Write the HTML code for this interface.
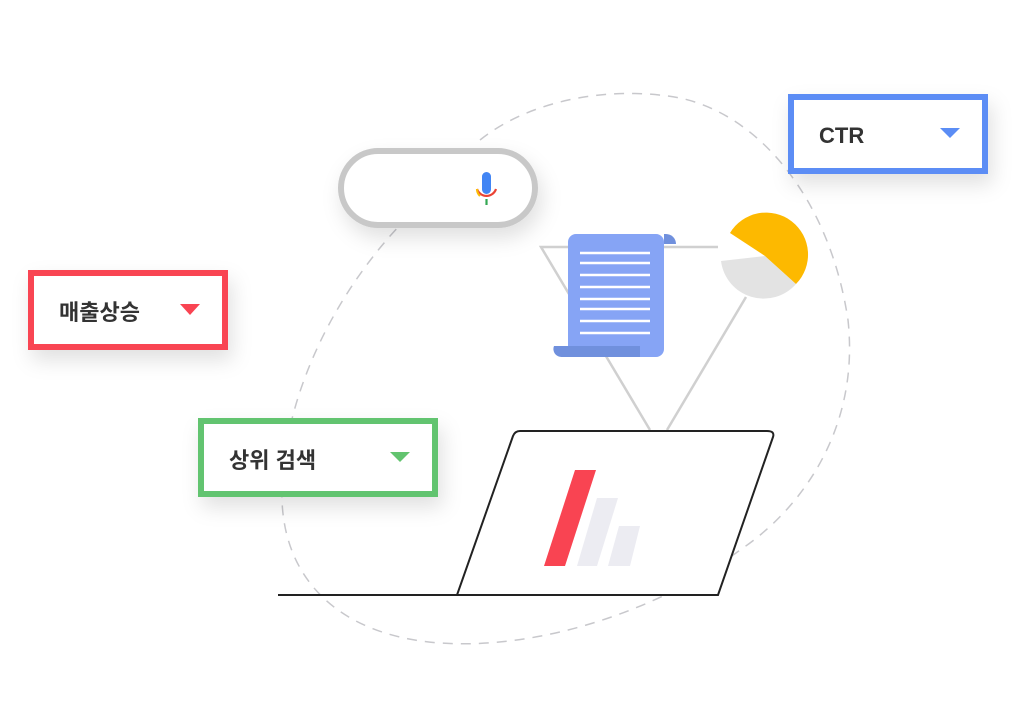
<!DOCTYPE html>
<html><head><meta charset="utf-8"><style>
html,body{margin:0;padding:0;background:#fff;width:1024px;height:724px;overflow:hidden}
svg{display:block}
.t{font-family:"Liberation Sans","Noto Sans CJK KR",sans-serif;font-size:22px;fill:#333}
</style></head><body>
<svg width="1024" height="724" viewBox="0 0 1024 724">
<defs>
<filter id="sh" x="-30%" y="-30%" width="160%" height="180%"><feDropShadow dx="4" dy="10" stdDeviation="10" flood-color="#000" flood-opacity="0.12"/></filter>
</defs>
<path d="M480,140 C530,100 610,85 680,98 C760,115 830,200 848,320 C860,430 800,510 740,550 C660,610 540,650 440,643 C330,635 280,570 282,490 C284,400 330,300 400,225" fill="none" stroke="#c8c8cc" stroke-width="1.5" stroke-dasharray="10,8"/>
<!-- search pill -->
<rect x="341" y="151" width="194" height="74" rx="37" fill="#fff" stroke="#c8c8c8" stroke-width="6" filter="url(#sh)"/>
<rect x="482" y="172" width="9" height="22" rx="4.5" fill="#4285f4"/>
<path d="M477,189 A10,10 0 0 0 496,189" fill="none" stroke="#ea4335" stroke-width="2.2"/>
<path d="M477,189 A10,10 0 0 0 480,196" fill="none" stroke="#fbbc05" stroke-width="2.2"/>
<line x1="486.5" y1="199" x2="486.5" y2="205" stroke="#34a853" stroke-width="2.2"/>
<!-- triangle lines -->
<polyline points="718,247 541,247 650,430" fill="none" stroke="#d0d0d0" stroke-width="2.5"/>
<line x1="746" y1="297" x2="667" y2="430" stroke="#d0d0d0" stroke-width="2.5"/>
<!-- document -->
<path d="M664,234 h2 a10,10 0 0 1 10,10 h-12z" fill="#7090dd"/>
<rect x="568" y="234" width="96" height="123" rx="8" fill="#86a4f5"/>
<path d="M554,346 H640 V357 H562 a8,8 0 0 1 -8,-11z" fill="#7090dd"/>
<g stroke="#fff" stroke-width="2.5">
<line x1="580" y1="253" x2="650" y2="253"/><line x1="580" y1="263" x2="650" y2="263"/>
<line x1="580" y1="275" x2="650" y2="275"/><line x1="580" y1="287" x2="650" y2="287"/>
<line x1="580" y1="299" x2="650" y2="299"/><line x1="580" y1="309" x2="650" y2="309"/>
<line x1="580" y1="321" x2="650" y2="321"/><line x1="580" y1="333" x2="650" y2="333"/>
</g>
<!-- pie -->
<path d="M765,256 L796,284 A43,43 0 0 1 721,261 Z" fill="#e3e3e3"/>
<path d="M765,256 L730,233 A42,42 0 1 1 796,284 Z" fill="#fdb900"/>
<!-- laptop -->
<line x1="278" y1="595" x2="458" y2="595" stroke="#222" stroke-width="2"/>
<path d="M513,436 Q515,431 520,431 H767 Q775,431 773,437 L718,595 H457 Z" fill="#fff" stroke="#222" stroke-width="2"/>
<polygon points="575,470 596,470 565,566 544,566" fill="#f94452"/>
<polygon points="597,498 618,498 597,566 577,566" fill="#ececf2"/>
<polygon points="619,526 640,526 630,566 608,566" fill="#ececf2"/>
<!-- boxes -->
<rect x="31" y="273" width="194" height="74" fill="#fff" stroke="#f94452" stroke-width="6" filter="url(#sh)"/>
<text class="t" x="59" y="320" font-weight="bold">매출상승</text>
<polygon points="180,304 200,304 190,315" fill="#f94452"/>
<rect x="201" y="421" width="234" height="73" fill="#fff" stroke="#62c46f" stroke-width="6" filter="url(#sh)"/>
<text class="t" x="229" y="468" font-weight="bold">상위 검색</text>
<polygon points="390,452 410,452 400,462" fill="#62c46f"/>
<rect x="791" y="97" width="194" height="74" fill="#fff" stroke="#5b8df5" stroke-width="6" filter="url(#sh)"/>
<text class="t" x="819" y="143" font-weight="bold">CTR</text>
<polygon points="940,128 960,128 950,138" fill="#5b8df5"/>
</svg>
</body></html>
